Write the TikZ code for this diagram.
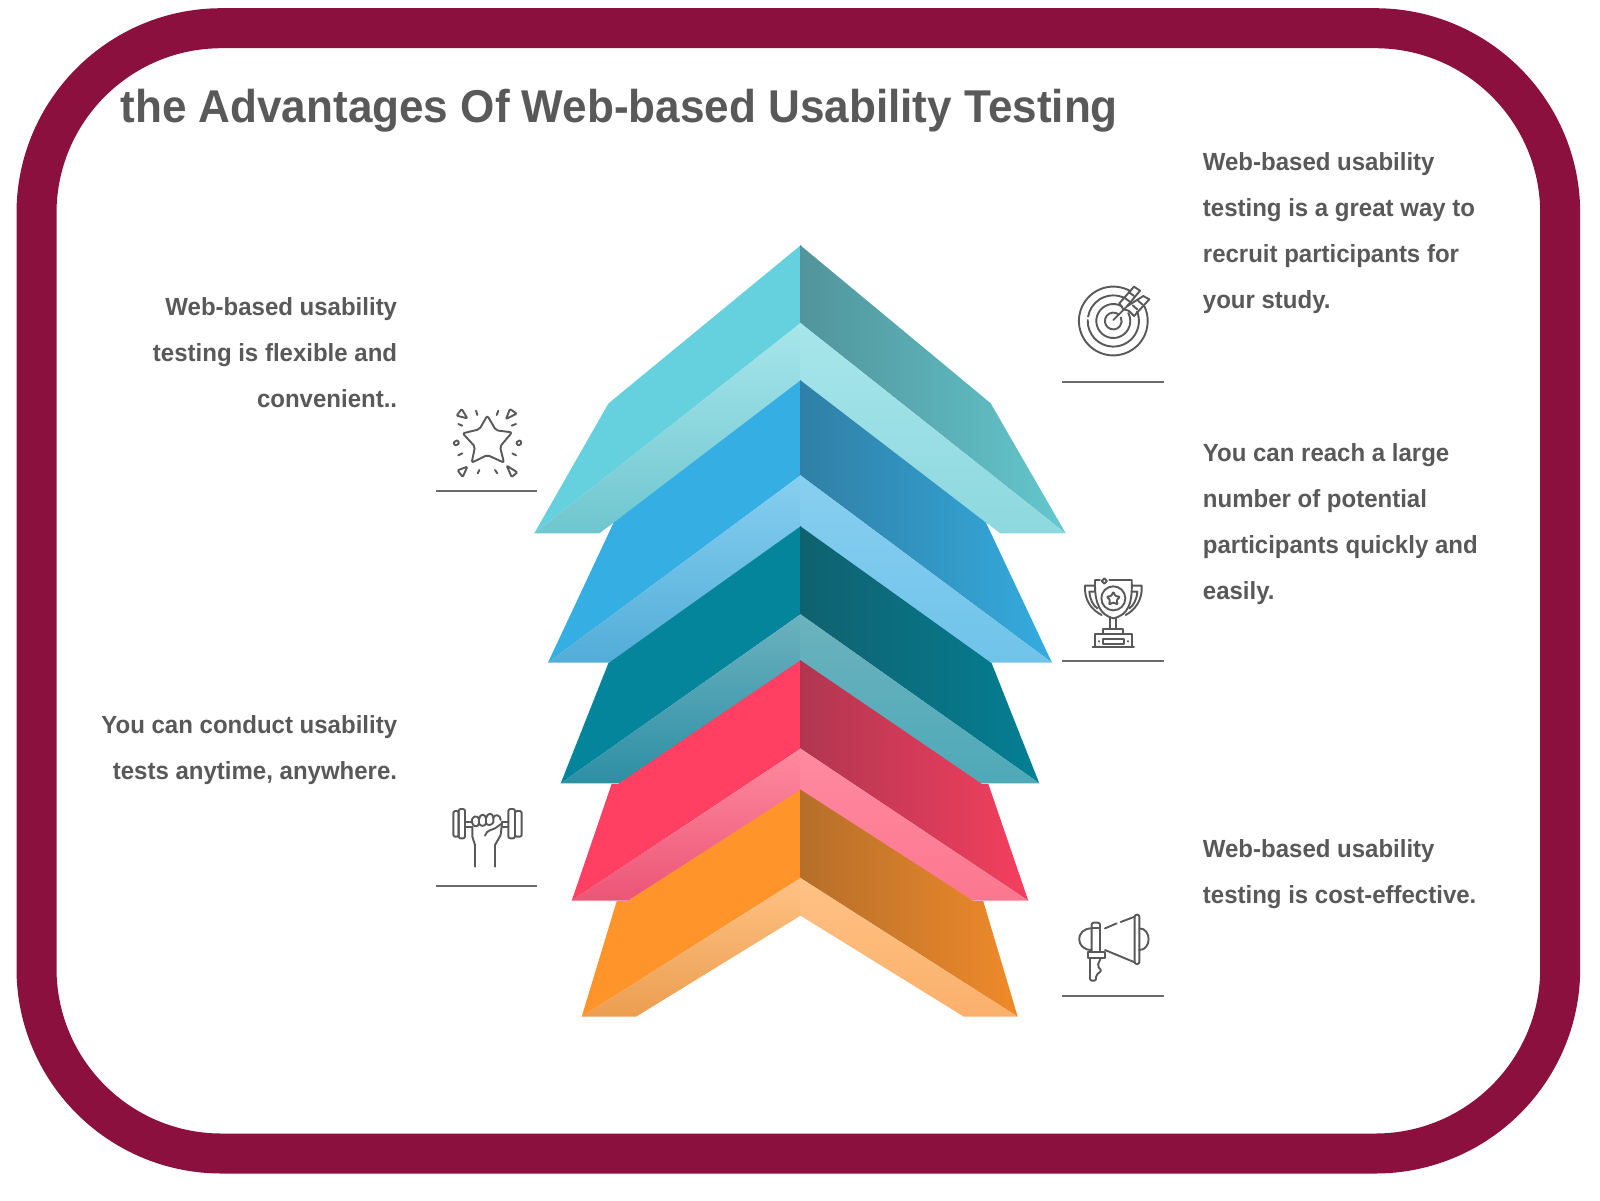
\documentclass[tikz,border=0pt]{standalone}
\usepackage{fontspec}
\setmainfont{Liberation Sans}
\newfontfamily\titlefont[FakeStretch=0.958]{Liberation Sans}
\newfontfamily\bodyfont[FakeStretch=0.968]{Liberation Sans}
\definecolor{frame}{HTML}{8B103E}
\definecolor{ink}{HTML}{595959}
\tikzset{
  x=0.5pt,y=-0.5pt,
  icon/.style={draw=ink,line width=0.95pt,line cap=round,line join=round},
  rulebar/.style={draw=ink!90,line width=0.8pt},
  bodytext/.style={text=ink,inner sep=0pt,font=\fontsize{12.4}{23}\bodyfont\bfseries},
  leftcol/.style={bodytext,align=right,anchor=north east},
  rightcol/.style={bodytext,align=left,anchor=north west},
}
\newcommand{\arcat}[4]{\draw[icon] ([shift={(#3:#2)}]#1) arc[start angle=#3,end angle=#4,radius=#2];}
\begin{document}
\begin{tikzpicture}
\useasboundingbox (0,0) rectangle (1600,1200);
\fill[white] (0,0) rectangle (1600,1200);
\draw[frame,line width=20pt,rounded corners=92.5pt] (36.5,28.2) rectangle (1560.2,1153.5);

% title
\node[text=ink,inner sep=0pt,anchor=base west,font=\fontsize{23}{28}\titlefont\bfseries] (title) at (120,122.5) {the Advantages Of Web-based Usability Testing};

% --- teal chevron
\definecolor{a1}{HTML}{66D1DE}\definecolor{a2}{HTML}{52949B}\definecolor{a3}{HTML}{63C8CE}
\definecolor{a4}{HTML}{A7E6EB}\definecolor{a5}{HTML}{6FC6CF}\definecolor{a6}{HTML}{8DD8DE}
\fill[a1] (801,245) -- (608.6,403.3) -- (534.3,533.3) -- (801,322.7) -- cycle;
\shade[left color=a2,right color=a3] (800,245) -- (990.7,403.3) -- (1065.7,533.3) -- (800,322.7) -- cycle;
\shade[top color=a4,bottom color=a5] (801,322.7) -- (534.3,533.3) -- (599.3,533.3) -- (801,384) -- cycle;
\shade[top color=a4,bottom color=a6] (800,322.7) -- (1065.7,533.3) -- (1000.4,533.3) -- (800,384) -- cycle;

% --- blue chevron
\definecolor{b1}{HTML}{35AFE3}\definecolor{b2}{HTML}{307FA6}\definecolor{b3}{HTML}{34ACDF}
\definecolor{b4}{HTML}{87CFF0}\definecolor{b5}{HTML}{52ADD8}\definecolor{b6}{HTML}{70C3EA}
\fill[b1] (801,380) -- (613.6,522.7) -- (547.9,662.7) -- (801,475) -- cycle;
\shade[left color=b2,right color=b3] (800,380) -- (986,522.7) -- (1052,662.7) -- (800,475) -- cycle;
\shade[top color=b4,bottom color=b5] (801,475) -- (547.9,662.7) -- (611,662.7) -- (801,536) -- cycle;
\shade[top color=b4,bottom color=b6] (800,475) -- (1052,662.7) -- (989,662.7) -- (800,536) -- cycle;

% --- dark teal chevron
\definecolor{c1}{HTML}{05859C}\definecolor{c2}{HTML}{10616F}\definecolor{c3}{HTML}{047F94}
\definecolor{c4}{HTML}{6BB2BE}\definecolor{c5}{HTML}{2E8FA5}\definecolor{c6}{HTML}{4FA9B8}
\fill[c1] (801,526) -- (608.3,663.3) -- (560.7,783.3) -- (801,614) -- cycle;
\shade[left color=c2,right color=c3] (800,526) -- (991.7,663.3) -- (1039.3,783.3) -- (800,614) -- cycle;
\shade[top color=c4,bottom color=c5] (801,614) -- (560.7,783.3) -- (619.3,783.3) -- (801,664) -- cycle;
\shade[top color=c4,bottom color=c6] (800,614) -- (1039.3,783.3) -- (980.7,783.3) -- (800,664) -- cycle;

% --- red chevron
\definecolor{d1}{HTML}{FF4062}\definecolor{d2}{HTML}{B03650}\definecolor{d3}{HTML}{F53F5F}
\definecolor{d4}{HTML}{FF8AA0}\definecolor{d5}{HTML}{EC5577}\definecolor{d6}{HTML}{FC7790}
\fill[d1] (801,660) -- (618.3,783.8) -- (611.7,783.8) -- (571.7,900.7) -- (801,748.3) -- cycle;
\shade[left color=d2,right color=d3] (800,660) -- (981.7,783.8) -- (988.3,783.8) -- (1028.3,900.7) -- (800,748.3) -- cycle;
\shade[top color=d4,bottom color=d5] (801,748.3) -- (571.7,900.7) -- (628.3,900.7) -- (801,793) -- cycle;
\shade[top color=d4,bottom color=d6] (800,748.3) -- (1028.3,900.7) -- (972.7,900.7) -- (800,793) -- cycle;

% --- orange chevron
\definecolor{e1}{HTML}{FF942A}\definecolor{e2}{HTML}{B56F2A}\definecolor{e3}{HTML}{F08A2A}
\definecolor{e4}{HTML}{FFC285}\definecolor{e5}{HTML}{EB9E50}\definecolor{e6}{HTML}{FAB06B}
\fill[e1] (801,789.3) -- (627.3,901.2) -- (616.7,901.2) -- (581.7,1016.7) -- (801,877.7) -- cycle;
\shade[left color=e2,right color=e3] (800,789.3) -- (973.7,901.2) -- (983.3,901.2) -- (1017.7,1016.7) -- (800,877.7) -- cycle;
\shade[top color=e4,bottom color=e5] (801,877.7) -- (581.7,1016.7) -- (636,1016.7) -- (801,915.3) -- cycle;
\shade[top color=e4,bottom color=e6] (800,877.7) -- (1017.7,1016.7) -- (964,1016.7) -- (800,915.3) -- cycle;

% --- texts
\node[leftcol] (t1) at (397.5,297.5) {Web-based usability\\testing is flexible and\\convenient..};
\node[leftcol] (t2) at (397.5,715.5) {You can conduct usability\\tests anytime, anywhere.};
\node[rightcol] (t3) at (1202.5,152.5) {Web-based usability\\testing is a great way to\\recruit participants for\\your study.};
\node[rightcol] (t4) at (1202.5,443.5) {You can reach a large\\number of potential\\participants quickly and\\easily.};
\node[rightcol] (t5) at (1202.5,839.5) {Web-based usability\\testing is cost-effective.};

% --- rules
\draw[rulebar] (1062,382) -- (1164,382);
\draw[rulebar] (1062,661) -- (1164,661);
\draw[rulebar] (1062,996) -- (1164,996);
\draw[rulebar] (436,491) -- (537,491);
\draw[rulebar] (436,886) -- (537,886);

% --- target icon
\coordinate (tc) at (1113.3,321);
\arcat{tc}{17.2pt}{60}{385}
\arcat{tc}{12.8pt}{62}{170}
\arcat{tc}{12.8pt}{178}{382}
\arcat{tc}{8.5pt}{60}{388}
\arcat{tc}{4.2pt}{50}{385}
\begin{scope}[shift={(1060,270)},x=0.16667pt,y=-0.16667pt]
\draw[icon] (160,150) -- (205,105);
\draw[icon] (178,100) -- (222,50) -- (240,62) -- (202,108);
\draw[icon] (202,108) -- (250,78) -- (268,88) -- (222,138) -- (206,122);
\draw[icon] (178,100) -- (190,118) -- (206,122);
\draw[icon] (192,82) -- (208,94) (206,66) -- (222,78);
\draw[icon] (218,106) -- (232,118) (234,92) -- (248,104);
\end{scope}

% --- trophy icon
\begin{scope}[shift={(1060,565)},x=0.16667pt,y=-0.16667pt]
\draw[icon] (148,45) -- (215,45) .. controls (218,115) and (205,150) .. (160,160) .. controls (120,150) and (105,115) .. (105,60) -- (105,45) -- (120,45);
\draw[icon] (103,62) -- (75,62) .. controls (72,105) and (95,135) .. (125,150);
\draw[icon] (103,80) -- (88,80) .. controls (90,105) and (100,122) .. (112,130);
\draw[icon] (217,62) -- (245,62) .. controls (248,105) and (225,135) .. (197,150);
\draw[icon] (217,80) -- (232,80) .. controls (230,105) and (220,122) .. (208,130);
\draw[icon] (133,40) -- (141,48) -- (133,56) -- (125,48) -- cycle;
\path[icon] (160,100) circle [radius=6pt];
\draw[icon,rounded corners=0.5pt] (160,80) -- (166,93) -- (180,95) -- (170,105) -- (173,119) -- (160,112) -- (147,119) -- (150,105) -- (140,95) -- (154,93) -- cycle;
\draw[icon] (150,160) -- (150,192) (168,160) -- (168,192);
\draw[icon] (130,207) -- (130,192) -- (190,192) -- (190,207);
\draw[icon] (105,245) -- (105,208) -- (215,208) -- (215,245);
\draw[icon] (98,245) -- (222,245);
\draw[icon] (128,222) rectangle (192,236);
\draw[icon] (116,228) -- (116,230) (204,228) -- (204,230);
\end{scope}

% --- megaphone icon
\begin{scope}[shift={(1060,900)},x=0.16667pt,y=-0.16667pt]
\draw[icon,rounded corners=1pt] (224,44) rectangle (238,192);
\draw[icon] (224,50) -- (182,66) (170,70) -- (135,85);
\draw[icon] (224,187) -- (135,150);
\draw[icon] (238,85) .. controls (275,85) and (275,150) .. (238,150);
\draw[icon] (95,85) .. controls (45,85) and (45,150) .. (95,150);
\draw[icon,rounded corners=1pt] (95,156) -- (95,68) -- (120,68) -- (120,156);
\draw[icon] (95,85) -- (120,85);
\draw[icon] (85,156) rectangle (135,175);
\draw[icon,rounded corners=1pt] (90,175) -- (90,242) -- (108,242) -- (108,225) -- (125,212) -- (112,198) -- (122,175);
\end{scope}

% --- star icon
\begin{scope}[shift={(430,395)},x=0.16667pt,y=-0.16667pt]
\draw[icon,rounded corners=1pt] (172,62) -- (198,106) -- (246,112) -- (210,155) -- (222,203) -- (172,180) -- (125,203) -- (135,155) -- (98,115) -- (148,103) -- cycle;
\draw[icon,rounded corners=0.5pt] (95,42) -- (112,70) -- (80,62) -- cycle;
\draw[icon,rounded corners=0.5pt] (240,42) -- (260,56) -- (228,72) -- cycle;
\draw[icon,rounded corners=0.5pt] (83,226) -- (112,215) -- (98,246) -- cycle;
\draw[icon,rounded corners=0.5pt] (230,212) -- (262,232) -- (245,246) -- cycle;
\draw[icon,rounded corners=0.5pt] (70,143) -- (82,135) -- (88,145) -- (76,152) -- cycle;
\draw[icon,rounded corners=0.5pt] (258,143) -- (270,135) -- (275,145) -- (265,152) -- cycle;
\draw[icon] (138,47) -- (142,60) (205,47) -- (200,60) (85,87) -- (97,92) (258,87) -- (245,92)
  (85,181) -- (97,175) (258,181) -- (247,175) (148,225) -- (143,235) (195,225) -- (202,235);
\end{scope}

% --- dumbbell icon
\begin{scope}[shift={(430,795)},x=0.16667pt,y=-0.16667pt]
\draw[icon,rounded corners=1pt] (70,48) rectangle (86,125);
\draw[icon,rounded corners=1pt] (86,42) rectangle (105,130);
\draw[icon,rounded corners=1pt] (235,42) rectangle (255,130);
\draw[icon,rounded corners=1pt] (255,48) rectangle (275,125);
\draw[icon] (105,82) -- (125,82) (105,97) -- (127,97) (215,82) -- (235,82) (215,97) -- (235,97);
\draw[icon] (127,85) .. controls (120,60) and (145,60) .. (147,72) .. controls (150,55) and (165,55) .. (168,70) .. controls (172,52) and (188,52) .. (190,68) .. controls (195,55) and (212,60) .. (212,75);
\draw[icon] (127,85) .. controls (130,97) and (145,97) .. (147,85) -- (147,72) (147,85) .. controls (150,95) and (165,95) .. (168,85) -- (168,70) (168,85) .. controls (172,92) and (185,92) .. (190,82) -- (190,68);
\draw[icon] (127,97) -- (127,125) -- (135,150) -- (135,215);
\draw[icon] (216,85) -- (212,120) -- (195,150) -- (195,215);
\draw[icon] (165,122) .. controls (170,105) and (185,105) .. (195,100) -- (216,85);
\end{scope}
\end{tikzpicture}
\end{document}
